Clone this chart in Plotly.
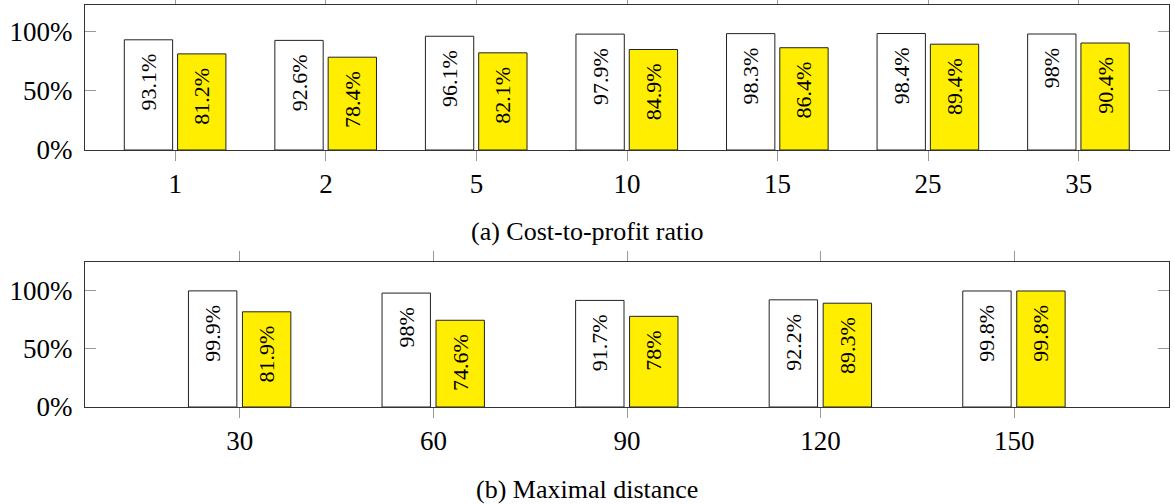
import plotly.graph_objects as go
from plotly.subplots import make_subplots

# ---- data ----
ratio_cats = ["1", "2", "5", "10", "15", "25", "35"]
ratio_white = [93.1, 92.6, 96.1, 97.9, 98.3, 98.4, 98]
ratio_yellow = [81.2, 78.4, 82.1, 84.9, 86.4, 89.4, 90.4]

dist_cats = ["30", "60", "90", "120", "150"]
dist_white = [99.9, 98, 91.7, 92.2, 99.8]
dist_yellow = [81.9, 74.6, 78, 89.3, 99.8]

y_ticks = [0, 50, 100]
captions = ["(a) Cost-to-profit ratio", "(b) Maximal distance"]

FONT = "Liberation Serif"
YELLOW = "#ffee00"
EDGE = "#222222"
TICKC = "#999999"
LABEL_SIZE = 22

W, H = 1174, 504
ML, MR, MT, MB = 85, 5, 5, 97
PH = H - MT - MB

fig = make_subplots(rows=2, cols=1)


def add_pair(cats, white, yellow, row, width, off_w, off_y):
    common = dict(
        width=width,
        textposition="inside",
        insidetextanchor="end",
        textangle=-90,
        texttemplate="%{y}%\u00a0\u00a0",
        textfont=dict(family=FONT, size=LABEL_SIZE, color="black"),
        cliponaxis=False,
        showlegend=False,
    )
    fig.add_trace(go.Bar(x=cats, y=white, offset=off_w,
                         marker=dict(color="white", line=dict(color=EDGE, width=1)),
                         **common), row=row, col=1)
    fig.add_trace(go.Bar(x=cats, y=yellow, offset=off_y,
                         marker=dict(color=YELLOW, line=dict(color=EDGE, width=1)),
                         **common), row=row, col=1)


add_pair(ratio_cats, ratio_white, ratio_yellow, 1, 0.321, -0.339, 0.015)
add_pair(dist_cats, dist_white, dist_yellow, 2, 0.25, -0.2655, 0.0134)

top_lo = (H - MB - 150) / PH
bot_hi = (H - MB - 261.7) / PH

xcommon = dict(type="category", showline=True, linecolor="#333", linewidth=1,
               mirror="ticks", ticks="outside", ticklen=10, tickcolor=TICKC,
               tickwidth=1, showgrid=False, zeroline=False, automargin=False,
               tickfont=dict(family=FONT, size=27, color="black"))
ycommon = dict(showline=True, linecolor="#333", linewidth=1, mirror="ticks",
               ticks="inside", ticklen=11, tickcolor=TICKC, tickwidth=1,
               showgrid=False, zeroline=False, tickmode="array",
               tickvals=y_ticks, ticktext=[f"{v}%" for v in y_ticks],
               ticklabelstandoff=6, automargin=False,
               tickfont=dict(family=FONT, size=27, color="black"))

fig.update_layout(
    width=W, height=H,
    margin=dict(l=ML, r=MR, t=MT, b=MB, autoexpand=False),
    paper_bgcolor="white", plot_bgcolor="white",
    barmode="overlay",
    xaxis=dict(domain=[0, 1], anchor="y", range=[-0.6, 6.6], **xcommon),
    yaxis=dict(domain=[top_lo, 1], anchor="x", range=[0, 122.5], **ycommon),
    xaxis2=dict(domain=[0, 1], anchor="y2", range=[-0.8, 4.8], **xcommon),
    yaxis2=dict(domain=[0, bot_hi], anchor="x2", range=[0, 125], **ycommon),
    annotations=[
        dict(text=captions[0], xref="paper", yref="paper",
             x=(587 - ML) / (W - ML - MR), y=(H - MB - 231) / PH,
             xanchor="center", yanchor="middle", showarrow=False,
             font=dict(family=FONT, size=26, color="black")),
        dict(text=captions[1], xref="paper", yref="paper",
             x=(587 - ML) / (W - ML - MR), y=(H - MB - 489) / PH,
             xanchor="center", yanchor="middle", showarrow=False,
             font=dict(family=FONT, size=26, color="black")),
    ],
)

fig.write_html("out.html", config={"displayModeBar": False},
               post_script="document.body.style.margin='0';")
